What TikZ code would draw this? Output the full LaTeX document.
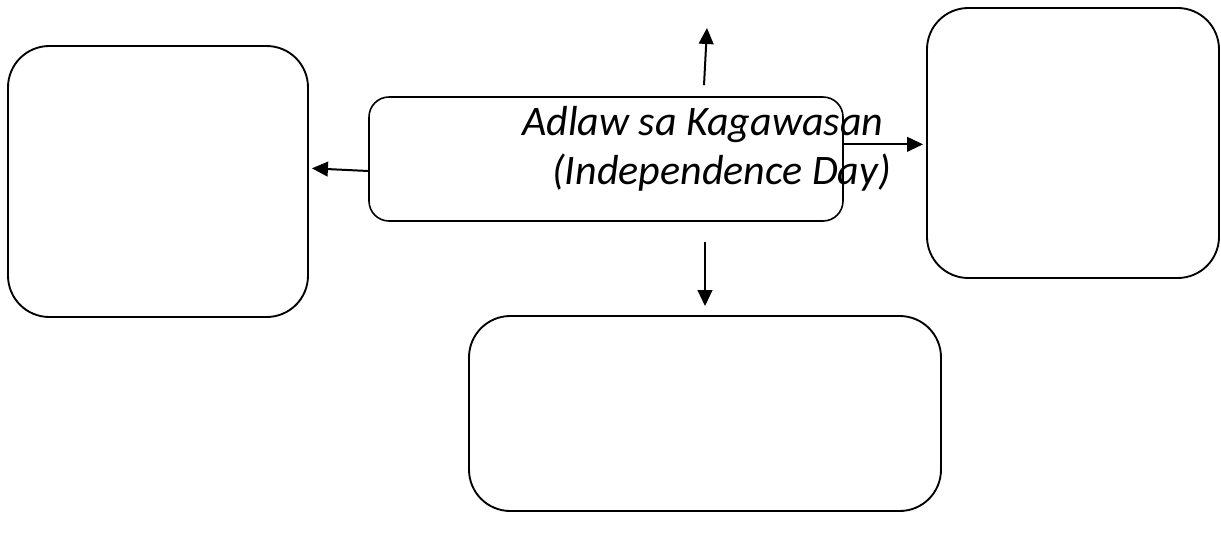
\documentclass[tikz,border=0pt]{standalone}
\usepackage{fontspec}
\setmainfont{Carlito}
\usepackage{tikz}
\usetikzlibrary{arrows.meta}
\usetikzlibrary{positioning}

\tikzset{
  bigbox/.style={draw=black, line width=1.4pt, rounded corners=31pt, inner sep=0pt},
  midbox/.style={draw=black, line width=1.2pt, rounded corners=15pt, inner sep=0pt},
  arr/.style={line width=1.5pt, -{Triangle[length=12pt,width=11pt]}},
  titletext/.style={inner sep=0pt, anchor=base west, font=\fontsize{31.5}{36}\selectfont\itshape}
}

\begin{document}
\begin{tikzpicture}[x=0.75pt, y=-0.75pt]
\useasboundingbox (0,0) rectangle (1221,540);
\node[bigbox, minimum width=225pt, minimum height=203.25pt] (left) at (158,181.5) {};
\node[midbox, minimum width=355.5pt, minimum height=93pt] (centre) at (606,159) {};
\node[bigbox, minimum width=219pt, minimum height=202.5pt] (right) at (1073,143) {};
\node[bigbox, minimum width=354pt, minimum height=146.25pt] (bottom) at (705,413.5) {};

\node[titletext] (title1) at (522,135) {Adlaw sa Kagawasan};
\node[titletext] (title2) at (552,184) {(Independence Day)};

\coordinate (upend) at (707,28);
\draw[arr] ([xshift=-2.25pt, yshift=8.25pt]centre.north -| upend) -- (upend);
\draw[arr, shorten <=15pt, shorten >=6.75pt] (centre.south -| bottom.north) -- (bottom.north);
\draw[arr, shorten >=2.25pt] ([yshift=-9pt]centre.west) -- ([yshift=10pt]left.east);
\draw[arr, shorten >=2.25pt] ([yshift=11pt]centre.east) -- ([yshift=11pt]centre.east -| right.west);
\end{tikzpicture}
\end{document}
